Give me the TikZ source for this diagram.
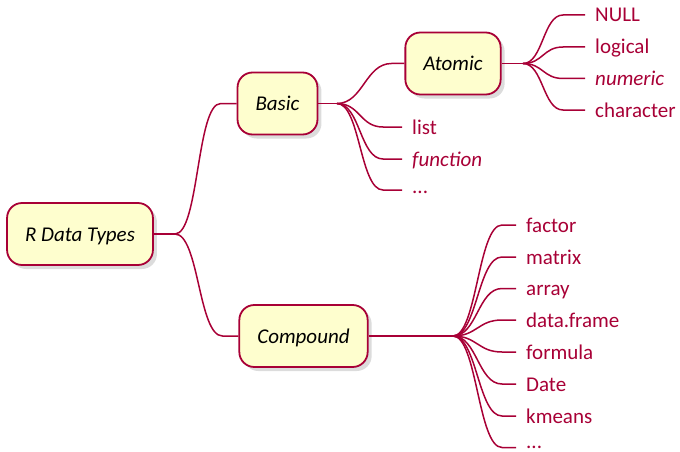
\documentclass[tikz,border=0pt]{standalone}
\usepackage{fontspec}
\setmainfont{Carlito}
\usetikzlibrary{shadows,calc}
\definecolor{mmline}{HTML}{A80036}
\definecolor{mmfill}{HTML}{FEFECE}
\tikzset{
  mmnode/.style={draw=mmline, line width=1.8pt, fill=mmfill, rounded corners=15pt,
    inner xsep=18pt, inner ysep=0pt, minimum height=62pt, text height=14pt, text depth=0pt,
    font=\fontsize{21}{25}\selectfont\itshape, text=black,
    drop shadow={opacity=0.28, shadow xshift=4pt, shadow yshift=-4pt}},
  leaf/.style={anchor=west, inner xsep=10pt, inner ysep=0pt, text height=14pt, text depth=0pt,
    font=\fontsize{21}{25}\selectfont, text=mmline},
  dotsleaf/.style={leaf, text height=6pt},
  edge/.style={draw=mmline, line width=1.5pt}
}
\begin{document}
\begin{tikzpicture}[x=1pt,y=-1pt]
\useasboundingbox (0,0) rectangle (680,452);
% main nodes
\node[mmnode] (root) at (80,234) {R Data Types};
\node[mmnode] (basic) at (277.5,103.5) {Basic};
\node[mmnode] (atomic) at (453,63.5) {Atomic};
\node[mmnode] (compound) at (303.5,336) {Compound};
% branch points
\coordinate (rootb) at (175,234);
\coordinate (basicb) at (337,103.5);
\coordinate (atomicb) at (523,63.5);
\coordinate (compb) at (453,336);
% leaves of Atomic
\node[leaf] (null) at (585,15) {NULL};
\node[leaf] (logical) at (585,47) {logical};
\node[leaf] (numeric) at (585,78.5) {\itshape numeric};
\node[leaf] (character) at (585,110) {character};
% leaves of Basic
\node[leaf] (list) at (402,127) {list};
\node[leaf] (function) at (402,159) {\itshape function};
\node[dotsleaf] (bdots) at (402,190) {...};
% leaves of Compound
\node[leaf] (factor) at (516,225) {factor};
\node[leaf] (matrix) at (516,257) {matrix};
\node[leaf] (array) at (516,288.5) {array};
\node[leaf] (dataframe) at (516,320) {data.frame};
\node[leaf] (formula) at (516,352) {formula};
\node[leaf] (date) at (516,384) {Date};
\node[leaf] (kmeans) at (516,416) {kmeans};
\node[dotsleaf] (cdots) at (516,447.5) {\raisebox{2pt}{...}};
% root edges
\draw[edge] (root.east) -- (rootb);
\foreach \c in {basic,compound}{
  \draw[edge] (rootb) .. controls +(24,0) and +(-24,0) .. ([xshift=-16pt]\c.west) -- (\c.west);
}
% basic edges
\draw[edge] (basic.east) -- (basicb);
\draw[edge] (basicb) .. controls +(26,0) and +(-26,0) .. ([xshift=-13pt]atomic.west) -- (atomic.west);
\foreach \c in {list,function,bdots}{
  \draw[edge] (basicb) .. controls +(23,0) and +(-23,0) .. ([xshift=-19pt]\c.west) -- (\c.west);
}
% atomic edges
\draw[edge] (atomic.east) -- (atomicb);
\foreach \c in {null,logical,numeric,character}{
  \draw[edge] (atomicb) .. controls +(20,0) and +(-20,0) .. ([xshift=-22pt]\c.west) -- (\c.west);
}
% compound edges
\draw[edge] (compound.east) -- (compb);
\foreach \c in {factor,matrix,array,dataframe,formula,date,kmeans,cdots}{
  \draw[edge] (compb) .. controls +(24,0) and +(-24,0) .. ([xshift=-14pt]\c.west) -- (\c.west);
}
\end{tikzpicture}
\end{document}
